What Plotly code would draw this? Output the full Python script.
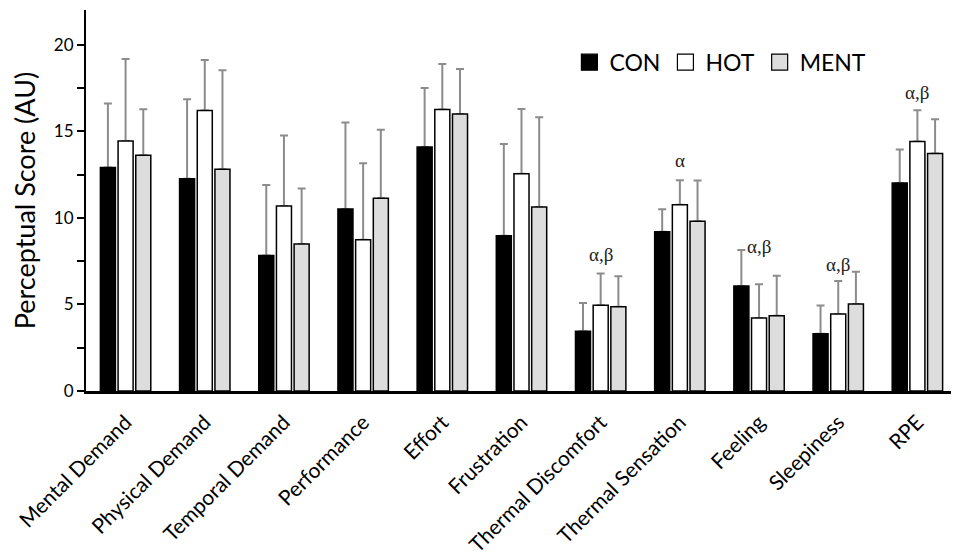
import plotly.graph_objects as go

categories = ["Mental Demand", "Physical Demand", "Temporal Demand", "Performance",
              "Effort", "Frustration", "Thermal Discomfort", "Thermal Sensation",
              "Feeling", "Sleepiness", "RPE"]

con_mean = [12.9, 12.26, 7.83, 10.51, 14.09, 8.97, 3.45, 9.2, 6.06, 3.31, 12.01]
con_top = [16.6, 16.84, 11.89, 15.5, 17.49, 14.26, 5.08, 10.49, 8.14, 4.93, 13.94]
hot_mean = [14.43, 16.19, 10.68, 8.74, 16.25, 12.55, 4.95, 10.76, 4.21, 4.45, 14.4]
hot_top = [19.17, 19.11, 14.76, 13.15, 18.88, 16.28, 6.78, 12.17, 6.16, 6.35, 16.21]
ment_mean = [13.62, 12.8, 8.49, 11.13, 15.99, 10.62, 4.87, 9.8, 4.35, 5.02, 13.71]
ment_top = [16.27, 18.52, 11.69, 15.09, 18.59, 15.8, 6.62, 12.15, 6.66, 6.89, 15.69]

sig_categories = ["Thermal Discomfort", "Thermal Sensation", "Feeling", "Sleepiness", "RPE"]
sig_labels = ["α,β", "α", "α,β", "α,β", "α,β"]
sig_y = [7.9, 13.3, 8.37, 7.3, 17.26]

series = [
    ("CON", con_mean, con_top, "#000000"),
    ("HOT", hot_mean, hot_top, "#ffffff"),
    ("MENT", ment_mean, ment_top, "#dcdddc"),
]

fig = go.Figure()

# error bars carried by transparent bars drawn first (so the lower cap is hidden)
for name, mean, top, color in series:
    sd = [t - m for t, m in zip(top, mean)]
    fig.add_trace(go.Bar(
        x=categories, y=mean, offsetgroup=name, showlegend=False, hoverinfo="skip",
        marker=dict(color="rgba(0,0,0,0)", line=dict(width=0)),
        error_y=dict(type="data", symmetric=False, array=sd, arrayminus=[0] * len(sd),
                     color="#8c8c8c", thickness=2, width=4),
    ))

for name, mean, top, color in series:
    fig.add_trace(go.Bar(
        x=categories, y=mean, offsetgroup=name, name=name, showlegend=False,
        marker=dict(color=color, line=dict(color="#000000", width=1.5)),
    ))

# legend entries
for name, mean, top, color in series:
    fig.add_trace(go.Scatter(
        x=[None], y=[None], mode="markers", name=name,
        marker=dict(symbol="square", size=16, color=color, line=dict(color="#000000", width=1.2)),
    ))

for cat, lab, yv in zip(sig_categories, sig_labels, sig_y):
    fig.add_annotation(x=cat, y=yv, text=lab, showarrow=False,
                       font=dict(family="Liberation Serif", size=19, color="#222222"),
                       yanchor="middle", xanchor="center")

fig.update_layout(
    width=951, height=548,
    margin=dict(l=78, r=2, t=2, b=165),
    paper_bgcolor="white", plot_bgcolor="white",
    barmode="group", bargap=0.33, bargroupgap=0.15,
    font=dict(family="Lato", color="#000000"),
    showlegend=True,
    legend=dict(orientation="h", x=0.555, y=0.863, xanchor="left", yanchor="middle",
                font=dict(size=23, color="#000000"), bgcolor="rgba(0,0,0,0)",
                itemwidth=30, tracegroupgap=0, itemclick=False),
    xaxis=dict(showline=True, linecolor="#000000", linewidth=2.5, ticks="",
               tickangle=-45, tickfont=dict(size=21, color="#000000"),
               ticklabelstandoff=8, automargin=False,
               showgrid=False, zeroline=False),
    yaxis=dict(range=[0, 22], showline=True, linecolor="#000000", linewidth=2,
               ticks="outside", ticklen=7, tickwidth=1.5, tickcolor="#000000",
               tickvals=[0, 5, 10, 15, 20], tickfont=dict(size=17, color="#000000"),
               minor=dict(dtick=2.5, ticks="outside", ticklen=7, tickwidth=1.5, tickcolor="#000000"),
               title=dict(text="Perceptual Score (AU)", font=dict(size=27, color="#000000"), standoff=10),
               automargin=False, showgrid=False, zeroline=False),
)

fig.write_html("out.html")
